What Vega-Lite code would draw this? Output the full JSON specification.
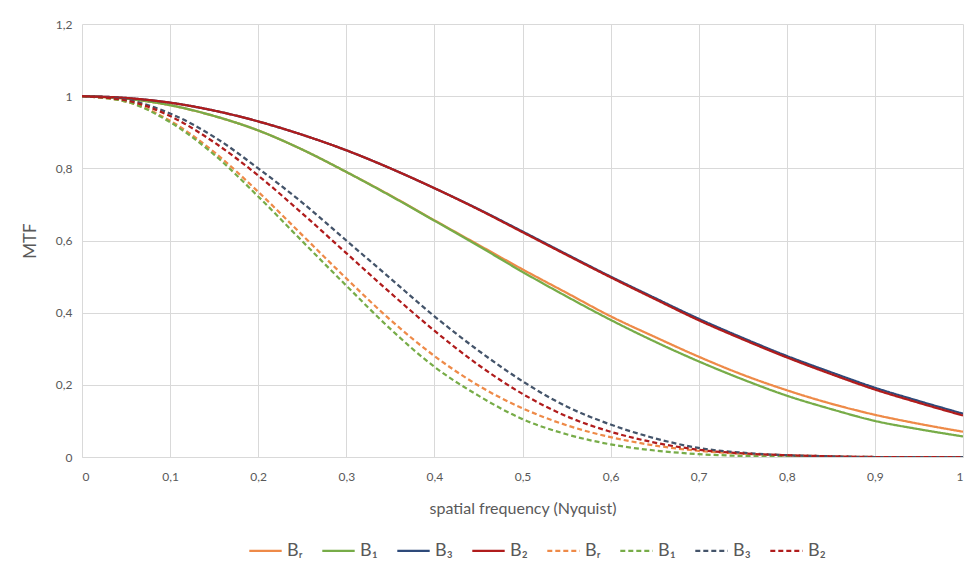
{
  "$schema": "https://vega.github.io/schema/vega-lite/v6.json",
  "width": 881,
  "height": 433,
  "autosize": {"type": "none"},
  "padding": {"left": 82, "top": 24, "right": 17, "bottom": 120},
  "background": "white",
  "config": {
    "font": "Lato",
    "view": {"stroke": null},
    "axis": {"labelFont": "Lato", "titleFont": "Lato", "labelColor": "#595959", "titleColor": "#595959", "gridColor": "#D9D9D9", "gridWidth": 1, "domainColor": "#D9D9D9", "ticks": false}
  },
  "datasets": {
    "mtf": [
      {"s":"Br_s","x":0,"y":1},{"s":"Br_s","x":0.05,"y":0.993},{"s":"Br_s","x":0.1,"y":0.975},{"s":"Br_s","x":0.15,"y":0.945},{"s":"Br_s","x":0.2,"y":0.905},{"s":"Br_s","x":0.25,"y":0.852},{"s":"Br_s","x":0.3,"y":0.79},{"s":"Br_s","x":0.35,"y":0.725},{"s":"Br_s","x":0.4,"y":0.656},{"s":"Br_s","x":0.45,"y":0.588},{"s":"Br_s","x":0.5,"y":0.52},{"s":"Br_s","x":0.55,"y":0.455},{"s":"Br_s","x":0.6,"y":0.39},{"s":"Br_s","x":0.65,"y":0.333},{"s":"Br_s","x":0.7,"y":0.278},{"s":"Br_s","x":0.75,"y":0.228},{"s":"Br_s","x":0.8,"y":0.185},{"s":"Br_s","x":0.85,"y":0.148},{"s":"Br_s","x":0.9,"y":0.117},{"s":"Br_s","x":0.95,"y":0.092},{"s":"Br_s","x":1,"y":0.07},
      {"s":"B1_s","x":0,"y":1},{"s":"B1_s","x":0.05,"y":0.993},{"s":"B1_s","x":0.1,"y":0.975},{"s":"B1_s","x":0.15,"y":0.945},{"s":"B1_s","x":0.2,"y":0.905},{"s":"B1_s","x":0.25,"y":0.852},{"s":"B1_s","x":0.3,"y":0.79},{"s":"B1_s","x":0.35,"y":0.724},{"s":"B1_s","x":0.4,"y":0.655},{"s":"B1_s","x":0.45,"y":0.585},{"s":"B1_s","x":0.5,"y":0.513},{"s":"B1_s","x":0.55,"y":0.445},{"s":"B1_s","x":0.6,"y":0.38},{"s":"B1_s","x":0.65,"y":0.32},{"s":"B1_s","x":0.7,"y":0.265},{"s":"B1_s","x":0.75,"y":0.215},{"s":"B1_s","x":0.8,"y":0.17},{"s":"B1_s","x":0.85,"y":0.133},{"s":"B1_s","x":0.9,"y":0.1},{"s":"B1_s","x":0.95,"y":0.077},{"s":"B1_s","x":1,"y":0.057},
      {"s":"B3_s","x":0,"y":1},{"s":"B3_s","x":0.05,"y":0.995},{"s":"B3_s","x":0.1,"y":0.982},{"s":"B3_s","x":0.15,"y":0.96},{"s":"B3_s","x":0.2,"y":0.93},{"s":"B3_s","x":0.25,"y":0.893},{"s":"B3_s","x":0.3,"y":0.85},{"s":"B3_s","x":0.35,"y":0.8},{"s":"B3_s","x":0.4,"y":0.745},{"s":"B3_s","x":0.45,"y":0.687},{"s":"B3_s","x":0.5,"y":0.625},{"s":"B3_s","x":0.55,"y":0.562},{"s":"B3_s","x":0.6,"y":0.5},{"s":"B3_s","x":0.65,"y":0.441},{"s":"B3_s","x":0.7,"y":0.383},{"s":"B3_s","x":0.75,"y":0.33},{"s":"B3_s","x":0.8,"y":0.28},{"s":"B3_s","x":0.85,"y":0.235},{"s":"B3_s","x":0.9,"y":0.192},{"s":"B3_s","x":0.95,"y":0.155},{"s":"B3_s","x":1,"y":0.12},
      {"s":"B2_s","x":0,"y":1},{"s":"B2_s","x":0.05,"y":0.995},{"s":"B2_s","x":0.1,"y":0.982},{"s":"B2_s","x":0.15,"y":0.96},{"s":"B2_s","x":0.2,"y":0.93},{"s":"B2_s","x":0.25,"y":0.893},{"s":"B2_s","x":0.3,"y":0.85},{"s":"B2_s","x":0.35,"y":0.8},{"s":"B2_s","x":0.4,"y":0.745},{"s":"B2_s","x":0.45,"y":0.686},{"s":"B2_s","x":0.5,"y":0.623},{"s":"B2_s","x":0.55,"y":0.56},{"s":"B2_s","x":0.6,"y":0.498},{"s":"B2_s","x":0.65,"y":0.438},{"s":"B2_s","x":0.7,"y":0.379},{"s":"B2_s","x":0.75,"y":0.326},{"s":"B2_s","x":0.8,"y":0.276},{"s":"B2_s","x":0.85,"y":0.23},{"s":"B2_s","x":0.9,"y":0.187},{"s":"B2_s","x":0.95,"y":0.15},{"s":"B2_s","x":1,"y":0.115},
      {"s":"Br_d","x":0,"y":1},{"s":"Br_d","x":0.05,"y":0.985},{"s":"Br_d","x":0.1,"y":0.932},{"s":"Br_d","x":0.15,"y":0.845},{"s":"Br_d","x":0.2,"y":0.735},{"s":"Br_d","x":0.25,"y":0.615},{"s":"Br_d","x":0.3,"y":0.495},{"s":"Br_d","x":0.35,"y":0.38},{"s":"Br_d","x":0.4,"y":0.28},{"s":"Br_d","x":0.45,"y":0.198},{"s":"Br_d","x":0.5,"y":0.135},{"s":"Br_d","x":0.55,"y":0.088},{"s":"Br_d","x":0.6,"y":0.055},{"s":"Br_d","x":0.65,"y":0.032},{"s":"Br_d","x":0.7,"y":0.017},{"s":"Br_d","x":0.75,"y":0.009},{"s":"Br_d","x":0.8,"y":0.005},{"s":"Br_d","x":0.85,"y":0.002},{"s":"Br_d","x":0.9,"y":0},{"s":"Br_d","x":0.95,"y":0},{"s":"Br_d","x":1,"y":0},
      {"s":"B1_d","x":0,"y":1},{"s":"B1_d","x":0.05,"y":0.985},{"s":"B1_d","x":0.1,"y":0.928},{"s":"B1_d","x":0.15,"y":0.838},{"s":"B1_d","x":0.2,"y":0.722},{"s":"B1_d","x":0.25,"y":0.598},{"s":"B1_d","x":0.3,"y":0.475},{"s":"B1_d","x":0.35,"y":0.355},{"s":"B1_d","x":0.4,"y":0.25},{"s":"B1_d","x":0.45,"y":0.17},{"s":"B1_d","x":0.5,"y":0.105},{"s":"B1_d","x":0.55,"y":0.063},{"s":"B1_d","x":0.6,"y":0.035},{"s":"B1_d","x":0.65,"y":0.018},{"s":"B1_d","x":0.7,"y":0.008},{"s":"B1_d","x":0.75,"y":0.003},{"s":"B1_d","x":0.8,"y":0.001},{"s":"B1_d","x":0.85,"y":0},{"s":"B1_d","x":0.9,"y":0},{"s":"B1_d","x":0.95,"y":0},{"s":"B1_d","x":1,"y":0},
      {"s":"B3_d","x":0,"y":1},{"s":"B3_d","x":0.05,"y":0.99},{"s":"B3_d","x":0.1,"y":0.952},{"s":"B3_d","x":0.15,"y":0.887},{"s":"B3_d","x":0.2,"y":0.8},{"s":"B3_d","x":0.25,"y":0.705},{"s":"B3_d","x":0.3,"y":0.6},{"s":"B3_d","x":0.35,"y":0.495},{"s":"B3_d","x":0.4,"y":0.39},{"s":"B3_d","x":0.45,"y":0.295},{"s":"B3_d","x":0.5,"y":0.21},{"s":"B3_d","x":0.55,"y":0.14},{"s":"B3_d","x":0.6,"y":0.09},{"s":"B3_d","x":0.65,"y":0.052},{"s":"B3_d","x":0.7,"y":0.025},{"s":"B3_d","x":0.75,"y":0.012},{"s":"B3_d","x":0.8,"y":0.005},{"s":"B3_d","x":0.85,"y":0.002},{"s":"B3_d","x":0.9,"y":0},{"s":"B3_d","x":0.95,"y":0},{"s":"B3_d","x":1,"y":0},
      {"s":"B2_d","x":0,"y":1},{"s":"B2_d","x":0.05,"y":0.988},{"s":"B2_d","x":0.1,"y":0.945},{"s":"B2_d","x":0.15,"y":0.872},{"s":"B2_d","x":0.2,"y":0.78},{"s":"B2_d","x":0.25,"y":0.675},{"s":"B2_d","x":0.3,"y":0.565},{"s":"B2_d","x":0.35,"y":0.455},{"s":"B2_d","x":0.4,"y":0.35},{"s":"B2_d","x":0.45,"y":0.255},{"s":"B2_d","x":0.5,"y":0.175},{"s":"B2_d","x":0.55,"y":0.113},{"s":"B2_d","x":0.6,"y":0.07},{"s":"B2_d","x":0.65,"y":0.04},{"s":"B2_d","x":0.7,"y":0.02},{"s":"B2_d","x":0.75,"y":0.01},{"s":"B2_d","x":0.8,"y":0.005},{"s":"B2_d","x":0.85,"y":0.002},{"s":"B2_d","x":0.9,"y":0},{"s":"B2_d","x":0.95,"y":0},{"s":"B2_d","x":1,"y":0}
    ]
  },
  "data": {"name": "mtf"},
  "mark": {"type": "line", "interpolate": "monotone", "strokeWidth": 2.25, "clip": true},
  "encoding": {
    "x": {
      "field": "x", "type": "quantitative",
      "scale": {"domain": [0, 1], "nice": false},
      "axis": {"values": [0,0.1,0.2,0.3,0.4,0.5,0.6,0.7,0.8,0.9,1], "labelExpr": "replace(toString(datum.value), '.', ',')", "labelFontSize": 12, "labelPadding": 14, "title": "spatial frequency (Nyquist)", "titleFontSize": 16, "titleFontWeight": "normal", "titlePadding": 18}
    },
    "y": {
      "field": "y", "type": "quantitative",
      "scale": {"domain": [0, 1.2], "nice": false},
      "axis": {"values": [0,0.2,0.4,0.6,0.8,1,1.2], "labelExpr": "replace(toString(datum.value), '.', ',')", "labelFontSize": 12, "labelPadding": 10, "title": "MTF", "titleFontSize": 17, "titleFontWeight": "normal", "titlePadding": 16, "domain": false}
    },
    "color": {
      "field": "s", "type": "nominal",
      "scale": {"domain": ["Br_s","B1_s","B3_s","B2_s","Br_d","B1_d","B3_d","B2_d"], "range": ["#EE8A48","#77AC48","#2E4A7A","#B01C1C","#EE8A48","#77AC48","#44546A","#B01C1C"]},
      "legend": {
        "orient": "none", "legendX": 166, "legendY": 509, "direction": "horizontal", "title": null,
        "symbolType": "stroke", "symbolSize": 1050, "symbolStrokeWidth": 2.25,
        "labelFontSize": 18, "labelColor": "#595959", "columnPadding": 14, "labelOffset": 4,
        "labelExpr": "indexof(datum.label,'Br')==0 ? 'Bᵣ' : indexof(datum.label,'B1')==0 ? 'B₁' : indexof(datum.label,'B2')==0 ? 'B₂' : 'B₃'"
      }
    },
    "strokeDash": {
      "field": "s", "type": "nominal",
      "scale": {"domain": ["Br_s","B1_s","B3_s","B2_s","Br_d","B1_d","B3_d","B2_d"], "range": [[1,0],[1,0],[1,0],[1,0],[5,3],[5,3],[5,3],[5,3]]},
      "legend": null
    }
  }
}
